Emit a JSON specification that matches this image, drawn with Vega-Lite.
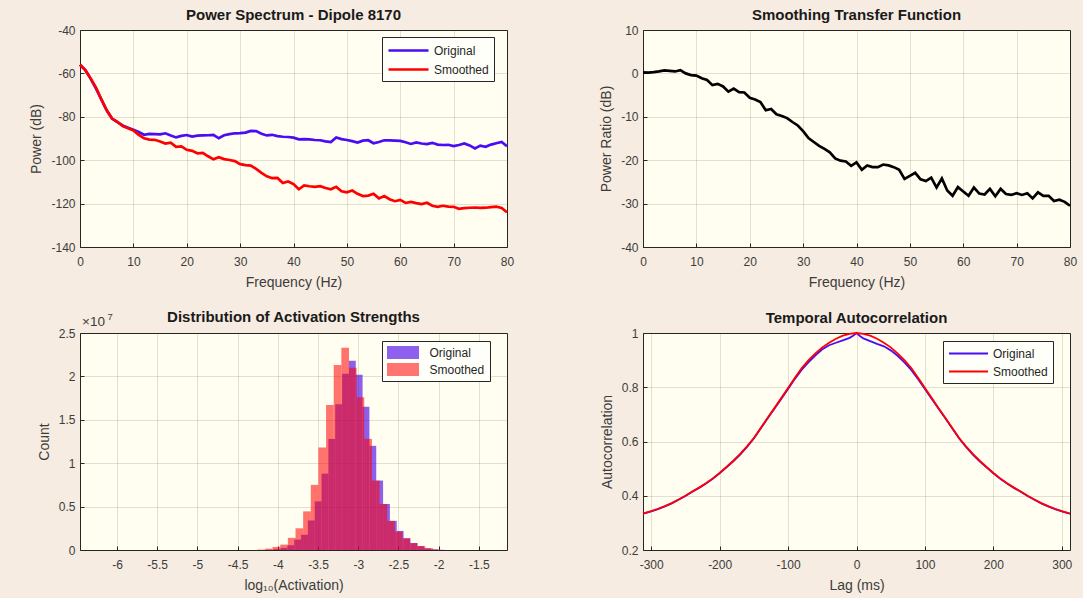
{
  "$schema": "https://vega.github.io/schema/vega-lite/v6.json",
  "background": "#f6ece1",
  "padding": {"left": 29, "top": 7, "right": 5, "bottom": 5},
  "columns": 2,
  "spacing": {"row": 86, "column": 136},
  "bounds": "flush",
  "resolve": {"scale": {"color": "independent"}, "legend": {"color": "independent"}},
  "config": {
    "font": "Liberation Sans",
    "locale": {"number": {"decimal": ".", "thousands": ",", "grouping": [3], "currency": ["$", ""], "minus": "-"}},
    "view": {"fill": "#fffef0", "stroke": "#262626", "strokeWidth": 1},
    "axis": {
      "labelFont": "Liberation Sans", "labelFontSize": 12, "labelColor": "#3c3c3c",
      "titleFont": "Liberation Sans", "titleFontSize": 14, "titleFontWeight": "normal", "titleColor": "#3c3c3c",
      "domain": false, "ticks": true, "tickSize": -4, "tickColor": "#262626",
      "grid": true, "gridColor": "#3a2a10", "gridOpacity": 0.14,
      "labelPadding": 13, "titlePadding": 8, "labelFlush": false, "labelOverlap": false, "labelBound": false
    },
    "axisY": {"labelPadding": 9, "titlePadding": 7},
    "title": {"font": "Liberation Sans", "fontSize": 15, "fontWeight": "bold", "color": "#1a1a1a", "offset": 1},
    "legend": {
      "title": null, "orient": "none", "strokeColor": "#262626", "fillColor": "#fffffa",
      "padding": 5, "labelFont": "Liberation Sans", "labelFontSize": 12, "labelColor": "#262626", "labelAlign": "left",
      "rowPadding": 4, "symbolOpacity": 1
    }
  },
  "concat": [
    {
      "width": 427, "height": 217,
      "title": "Power Spectrum - Dipole 8170",
      "data": {"values": [
        {"f":0,"p":-56,"s":"Original"},{"f":1,"p":-58.5,"s":"Original"},{"f":2,"p":-62.5,"s":"Original"},{"f":3,"p":-67,"s":"Original"},{"f":4,"p":-72,"s":"Original"},{"f":5,"p":-77,"s":"Original"},{"f":6,"p":-80.8,"s":"Original"},{"f":7,"p":-82.5,"s":"Original"},{"f":8,"p":-84,"s":"Original"},{"f":9,"p":-85,"s":"Original"},
        {"f":10,"p":-86,"s":"Original"},{"f":11,"p":-87,"s":"Original"},{"f":12,"p":-88.3,"s":"Original"},{"f":13,"p":-87.9,"s":"Original"},{"f":14,"p":-88,"s":"Original"},{"f":15,"p":-88.1,"s":"Original"},{"f":16,"p":-87.6,"s":"Original"},{"f":17,"p":-88.6,"s":"Original"},{"f":18,"p":-89.5,"s":"Original"},{"f":19,"p":-88.8,"s":"Original"},
        {"f":20,"p":-88.4,"s":"Original"},{"f":21,"p":-89.1,"s":"Original"},{"f":22,"p":-88.7,"s":"Original"},{"f":23,"p":-88.6,"s":"Original"},{"f":24,"p":-88.5,"s":"Original"},{"f":25,"p":-88.3,"s":"Original"},{"f":26,"p":-89.9,"s":"Original"},{"f":27,"p":-88.5,"s":"Original"},{"f":28,"p":-88,"s":"Original"},{"f":29,"p":-87.6,"s":"Original"},
        {"f":30,"p":-87.5,"s":"Original"},{"f":31,"p":-87.3,"s":"Original"},{"f":32,"p":-86.5,"s":"Original"},{"f":33,"p":-86.6,"s":"Original"},{"f":34,"p":-87.8,"s":"Original"},{"f":35,"p":-88.6,"s":"Original"},{"f":36,"p":-88.3,"s":"Original"},{"f":37,"p":-88.9,"s":"Original"},{"f":38,"p":-89.2,"s":"Original"},{"f":39,"p":-89.3,"s":"Original"},
        {"f":40,"p":-89.6,"s":"Original"},{"f":41,"p":-90.4,"s":"Original"},{"f":42,"p":-90.3,"s":"Original"},{"f":43,"p":-90.4,"s":"Original"},{"f":44,"p":-90.7,"s":"Original"},{"f":45,"p":-90.8,"s":"Original"},{"f":46,"p":-91.3,"s":"Original"},{"f":47,"p":-91.6,"s":"Original"},{"f":48,"p":-89.5,"s":"Original"},{"f":49,"p":-90.3,"s":"Original"},
        {"f":50,"p":-90.7,"s":"Original"},{"f":51,"p":-91.2,"s":"Original"},{"f":52,"p":-91.9,"s":"Original"},{"f":53,"p":-91,"s":"Original"},{"f":54,"p":-90.8,"s":"Original"},{"f":55,"p":-92.2,"s":"Original"},{"f":56,"p":-91.6,"s":"Original"},{"f":57,"p":-90.8,"s":"Original"},{"f":58,"p":-90.9,"s":"Original"},{"f":59,"p":-91,"s":"Original"},
        {"f":60,"p":-91.1,"s":"Original"},{"f":61,"p":-91.7,"s":"Original"},{"f":62,"p":-92.5,"s":"Original"},{"f":63,"p":-91.8,"s":"Original"},{"f":64,"p":-92.3,"s":"Original"},{"f":65,"p":-92.6,"s":"Original"},{"f":66,"p":-92,"s":"Original"},{"f":67,"p":-92.8,"s":"Original"},{"f":68,"p":-93,"s":"Original"},{"f":69,"p":-92.9,"s":"Original"},
        {"f":70,"p":-93.5,"s":"Original"},{"f":71,"p":-93,"s":"Original"},{"f":72,"p":-92.3,"s":"Original"},{"f":73,"p":-93.2,"s":"Original"},{"f":74,"p":-94.6,"s":"Original"},{"f":75,"p":-93.3,"s":"Original"},{"f":76,"p":-93.8,"s":"Original"},{"f":77,"p":-92.8,"s":"Original"},{"f":78,"p":-92.2,"s":"Original"},{"f":79,"p":-91.6,"s":"Original"},{"f":80,"p":-93.6,"s":"Original"},
        {"f":0,"p":-56,"s":"Smoothed"},{"f":1,"p":-58.5,"s":"Smoothed"},{"f":2,"p":-62.3,"s":"Smoothed"},{"f":3,"p":-66.5,"s":"Smoothed"},{"f":4,"p":-72,"s":"Smoothed"},{"f":5,"p":-77,"s":"Smoothed"},{"f":6,"p":-80.8,"s":"Smoothed"},{"f":7,"p":-82.3,"s":"Smoothed"},{"f":8,"p":-84.3,"s":"Smoothed"},{"f":9,"p":-85.3,"s":"Smoothed"},
        {"f":10,"p":-86.3,"s":"Smoothed"},{"f":11,"p":-88.3,"s":"Smoothed"},{"f":12,"p":-89.9,"s":"Smoothed"},{"f":13,"p":-90.5,"s":"Smoothed"},{"f":14,"p":-90.6,"s":"Smoothed"},{"f":15,"p":-91.4,"s":"Smoothed"},{"f":16,"p":-92.3,"s":"Smoothed"},{"f":17,"p":-91.9,"s":"Smoothed"},{"f":18,"p":-93.8,"s":"Smoothed"},{"f":19,"p":-93.6,"s":"Smoothed"},
        {"f":20,"p":-95.2,"s":"Smoothed"},{"f":21,"p":-95.7,"s":"Smoothed"},{"f":22,"p":-96.8,"s":"Smoothed"},{"f":23,"p":-96.6,"s":"Smoothed"},{"f":24,"p":-98.2,"s":"Smoothed"},{"f":25,"p":-99.6,"s":"Smoothed"},{"f":26,"p":-98.6,"s":"Smoothed"},{"f":27,"p":-99.5,"s":"Smoothed"},{"f":28,"p":-99.9,"s":"Smoothed"},{"f":29,"p":-100.4,"s":"Smoothed"},
        {"f":30,"p":-101.8,"s":"Smoothed"},{"f":31,"p":-102.3,"s":"Smoothed"},{"f":32,"p":-102.5,"s":"Smoothed"},{"f":33,"p":-104,"s":"Smoothed"},{"f":34,"p":-105.8,"s":"Smoothed"},{"f":35,"p":-107.4,"s":"Smoothed"},{"f":36,"p":-108.3,"s":"Smoothed"},{"f":37,"p":-108.2,"s":"Smoothed"},{"f":38,"p":-110.5,"s":"Smoothed"},{"f":39,"p":-109.8,"s":"Smoothed"},
        {"f":40,"p":-111,"s":"Smoothed"},{"f":41,"p":-113.4,"s":"Smoothed"},{"f":42,"p":-111.6,"s":"Smoothed"},{"f":43,"p":-112,"s":"Smoothed"},{"f":44,"p":-112.3,"s":"Smoothed"},{"f":45,"p":-112,"s":"Smoothed"},{"f":46,"p":-112.8,"s":"Smoothed"},{"f":47,"p":-113.4,"s":"Smoothed"},{"f":48,"p":-112.3,"s":"Smoothed"},{"f":49,"p":-114.3,"s":"Smoothed"},
        {"f":50,"p":-114.8,"s":"Smoothed"},{"f":51,"p":-114,"s":"Smoothed"},{"f":52,"p":-115.5,"s":"Smoothed"},{"f":53,"p":-116.5,"s":"Smoothed"},{"f":54,"p":-116.3,"s":"Smoothed"},{"f":55,"p":-115.5,"s":"Smoothed"},{"f":56,"p":-117.6,"s":"Smoothed"},{"f":57,"p":-116.5,"s":"Smoothed"},{"f":58,"p":-118,"s":"Smoothed"},{"f":59,"p":-118.9,"s":"Smoothed"},
        {"f":60,"p":-118.3,"s":"Smoothed"},{"f":61,"p":-119.7,"s":"Smoothed"},{"f":62,"p":-119.2,"s":"Smoothed"},{"f":63,"p":-119.8,"s":"Smoothed"},{"f":64,"p":-120.2,"s":"Smoothed"},{"f":65,"p":-119.6,"s":"Smoothed"},{"f":66,"p":-121,"s":"Smoothed"},{"f":67,"p":-121.5,"s":"Smoothed"},{"f":68,"p":-121,"s":"Smoothed"},{"f":69,"p":-121.4,"s":"Smoothed"},
        {"f":70,"p":-121.5,"s":"Smoothed"},{"f":71,"p":-122.4,"s":"Smoothed"},{"f":72,"p":-122.1,"s":"Smoothed"},{"f":73,"p":-121.9,"s":"Smoothed"},{"f":74,"p":-121.8,"s":"Smoothed"},{"f":75,"p":-122,"s":"Smoothed"},{"f":76,"p":-121.9,"s":"Smoothed"},{"f":77,"p":-121.6,"s":"Smoothed"},{"f":78,"p":-121.4,"s":"Smoothed"},{"f":79,"p":-122,"s":"Smoothed"},{"f":80,"p":-124,"s":"Smoothed"}
      ]},
      "mark": {"type": "line", "strokeWidth": 2.7},
      "encoding": {
        "x": {"field": "f", "type": "quantitative", "scale": {"domain": [0, 80], "nice": false}, "axis": {"title": "Frequency (Hz)", "values": [0,10,20,30,40,50,60,70,80]}},
        "y": {"field": "p", "type": "quantitative", "scale": {"domain": [-140, -40], "nice": false, "zero": false}, "axis": {"title": "Power (dB)", "values": [-140,-120,-100,-80,-60,-40]}},
        "color": {"field": "s", "type": "nominal", "scale": {"domain": ["Original", "Smoothed"], "range": ["#4a0cf5", "#ff0000"]},
          "legend": {"legendX": 302, "legendY": 7, "symbolType": "M-3,0H3", "symbolSize": 178, "symbolStrokeWidth": 2.7, "symbolOffset": 13, "labelOffset": 17, "rowPadding": 4, "padding": 5}}
      }
    },
    {
      "width": 427, "height": 217,
      "title": "Smoothing Transfer Function",
      "data": {"values": [
        {"f":0,"r":0.25},{"f":1,"r":0.2},{"f":2,"r":0.3},{"f":3,"r":0.45},{"f":4,"r":0.7},{"f":5,"r":0.6},{"f":6,"r":0.45},{"f":7,"r":0.75},{"f":8,"r":0},{"f":9,"r":-0.4},
        {"f":10,"r":-0.5},{"f":11,"r":-1.1},{"f":12,"r":-1.5},{"f":13,"r":-2.7},{"f":14,"r":-2.4},{"f":15,"r":-3},{"f":16,"r":-4.2},{"f":17,"r":-3.5},{"f":18,"r":-4.3},{"f":19,"r":-4.4},
        {"f":20,"r":-5.6},{"f":21,"r":-6},{"f":22,"r":-6.6},{"f":23,"r":-8.5},{"f":24,"r":-8.2},{"f":25,"r":-9.4},{"f":26,"r":-9.8},{"f":27,"r":-10.3},{"f":28,"r":-11.2},{"f":29,"r":-12},
        {"f":30,"r":-13.3},{"f":31,"r":-14.9},{"f":32,"r":-15.8},{"f":33,"r":-16.7},{"f":34,"r":-17.4},{"f":35,"r":-18.2},{"f":36,"r":-19.6},{"f":37,"r":-20.1},{"f":38,"r":-20.3},{"f":39,"r":-21.3},
        {"f":40,"r":-20.5},{"f":41,"r":-22.2},{"f":42,"r":-21.2},{"f":43,"r":-21.6},{"f":44,"r":-21.6},{"f":45,"r":-21},{"f":46,"r":-21.2},{"f":47,"r":-21.6},{"f":48,"r":-22.2},{"f":49,"r":-24.3},
        {"f":50,"r":-23.6},{"f":51,"r":-22.9},{"f":52,"r":-24.4},{"f":53,"r":-24.8},{"f":54,"r":-24},{"f":55,"r":-26.3},{"f":56,"r":-24.2},{"f":57,"r":-27},{"f":58,"r":-28.2},{"f":59,"r":-26.2},
        {"f":60,"r":-27.2},{"f":61,"r":-28.2},{"f":62,"r":-26.3},{"f":63,"r":-27.7},{"f":64,"r":-27.9},{"f":65,"r":-26.6},{"f":66,"r":-28.3},{"f":67,"r":-26.6},{"f":68,"r":-27.8},{"f":69,"r":-28},
        {"f":70,"r":-27.6},{"f":71,"r":-28},{"f":72,"r":-27.6},{"f":73,"r":-28.8},{"f":74,"r":-27.4},{"f":75,"r":-28.2},{"f":76,"r":-28.2},{"f":77,"r":-29.4},{"f":78,"r":-29.1},{"f":79,"r":-29.6},{"f":80,"r":-30.5}
      ]},
      "mark": {"type": "line", "strokeWidth": 2.7, "color": "#000000"},
      "encoding": {
        "x": {"field": "f", "type": "quantitative", "scale": {"domain": [0, 80], "nice": false}, "axis": {"title": "Frequency (Hz)", "values": [0,10,20,30,40,50,60,70,80]}},
        "y": {"field": "r", "type": "quantitative", "scale": {"domain": [-40, 10], "nice": false, "zero": false}, "axis": {"title": "Power Ratio (dB)", "values": [-40,-30,-20,-10,0,10]}}
      }
    },
    {
      "width": 427, "height": 217,
      "title": {"text": "Distribution of Activation Strengths", "offset": -13},
      "layer": [
        {
          "data": {"values": [
            {"lo":-4.136,"hi":-4.051,"n":30000,"s":"Original"},{"lo":-4.051,"hi":-3.966,"n":100000,"s":"Original"},{"lo":-3.966,"hi":-3.881,"n":250000,"s":"Original"},{"lo":-3.881,"hi":-3.796,"n":550000,"s":"Original"},{"lo":-3.796,"hi":-3.711,"n":1200000,"s":"Original"},
            {"lo":-3.711,"hi":-3.626,"n":1750000,"s":"Original"},{"lo":-3.626,"hi":-3.541,"n":3400000,"s":"Original"},{"lo":-3.541,"hi":-3.456,"n":5600000,"s":"Original"},{"lo":-3.456,"hi":-3.371,"n":8800000,"s":"Original"},{"lo":-3.371,"hi":-3.286,"n":12800000,"s":"Original"},
            {"lo":-3.286,"hi":-3.201,"n":16800000,"s":"Original"},{"lo":-3.201,"hi":-3.116,"n":20300000,"s":"Original"},{"lo":-3.116,"hi":-3.031,"n":21800000,"s":"Original"},{"lo":-3.031,"hi":-2.946,"n":20200000,"s":"Original"},{"lo":-2.946,"hi":-2.861,"n":16500000,"s":"Original"},
            {"lo":-2.861,"hi":-2.776,"n":12000000,"s":"Original"},{"lo":-2.776,"hi":-2.691,"n":8000000,"s":"Original"},{"lo":-2.691,"hi":-2.606,"n":5300000,"s":"Original"},{"lo":-2.606,"hi":-2.521,"n":3360000,"s":"Original"},{"lo":-2.521,"hi":-2.436,"n":2200000,"s":"Original"},
            {"lo":-2.436,"hi":-2.351,"n":1350000,"s":"Original"},{"lo":-2.351,"hi":-2.266,"n":800000,"s":"Original"},{"lo":-2.266,"hi":-2.181,"n":450000,"s":"Original"},{"lo":-2.181,"hi":-2.096,"n":200000,"s":"Original"},{"lo":-2.096,"hi":-2.011,"n":80000,"s":"Original"},{"lo":-2.011,"hi":-1.926,"n":20000,"s":"Original"},
            {"lo":-4.255,"hi":-4.16,"n":50000,"s":"Smoothed"},{"lo":-4.16,"hi":-4.065,"n":150000,"s":"Smoothed"},{"lo":-4.065,"hi":-3.97,"n":350000,"s":"Smoothed"},{"lo":-3.97,"hi":-3.875,"n":620000,"s":"Smoothed"},{"lo":-3.875,"hi":-3.78,"n":1400000,"s":"Smoothed"},
            {"lo":-3.78,"hi":-3.685,"n":2500000,"s":"Smoothed"},{"lo":-3.685,"hi":-3.59,"n":4450000,"s":"Smoothed"},{"lo":-3.59,"hi":-3.495,"n":7500000,"s":"Smoothed"},{"lo":-3.495,"hi":-3.4,"n":11800000,"s":"Smoothed"},{"lo":-3.4,"hi":-3.305,"n":16700000,"s":"Smoothed"},
            {"lo":-3.305,"hi":-3.21,"n":21300000,"s":"Smoothed"},{"lo":-3.21,"hi":-3.115,"n":23300000,"s":"Smoothed"},{"lo":-3.115,"hi":-3.02,"n":21000000,"s":"Smoothed"},{"lo":-3.02,"hi":-2.925,"n":17600000,"s":"Smoothed"},{"lo":-2.925,"hi":-2.83,"n":12800000,"s":"Smoothed"},
            {"lo":-2.83,"hi":-2.735,"n":8000000,"s":"Smoothed"},{"lo":-2.735,"hi":-2.64,"n":5300000,"s":"Smoothed"},{"lo":-2.64,"hi":-2.545,"n":3350000,"s":"Smoothed"},{"lo":-2.545,"hi":-2.45,"n":2100000,"s":"Smoothed"},{"lo":-2.45,"hi":-2.355,"n":1350000,"s":"Smoothed"},
            {"lo":-2.355,"hi":-2.26,"n":800000,"s":"Smoothed"},{"lo":-2.26,"hi":-2.165,"n":450000,"s":"Smoothed"},{"lo":-2.165,"hi":-2.07,"n":200000,"s":"Smoothed"},{"lo":-2.07,"hi":-1.975,"n":50000,"s":"Smoothed"}
          ]},
          "mark": {"type": "rect"},
          "encoding": {
            "x": {"field": "lo", "type": "quantitative", "scale": {"domain": [-6.46, -1.15], "nice": false, "zero": false},
              "axis": {"title": "log₁₀(Activation)", "values": [-6,-5.5,-5,-4.5,-4,-3.5,-3,-2.5,-2,-1.5], "format": "~g"}},
            "x2": {"field": "hi"},
            "y": {"field": "n", "type": "quantitative", "scale": {"domain": [0, 25000000], "nice": false},
              "axis": {"title": "Count", "values": [0,5000000,10000000,15000000,20000000,25000000], "labelExpr": "format(datum.value / 10000000, '~g')"}},
            "y2": {"datum": 0},
            "color": {"field": "s", "type": "nominal", "scale": {"domain": ["Original", "Smoothed"], "range": ["rgba(80,10,230,0.65)", "rgba(255,0,0,0.55)"]},
              "legend": {"legendX": 302, "legendY": 8, "symbolType": "M-2.46,-1H2.46V1H-2.46Z", "symbolSize": 169, "symbolStrokeWidth": 0, "symbolOffset": 9.5, "labelOffset": 20, "rowPadding": 4, "padding": 5}}
          }
        },
        {
          "data": {"values": [{"t": "×10"}]},
          "mark": {"type": "text", "align": "left", "baseline": "bottom", "dx": 2, "dy": -4, "fontSize": 13.5, "color": "#3c3c3c"},
          "encoding": {"x": {"datum": -6.46}, "y": {"datum": 25000000}, "text": {"field": "t"}}
        },
        {
          "data": {"values": [{"t": "7"}]},
          "mark": {"type": "text", "align": "left", "baseline": "bottom", "dx": 27.5, "dy": -11, "fontSize": 9.5, "color": "#3c3c3c"},
          "encoding": {"x": {"datum": -6.46}, "y": {"datum": 25000000}, "text": {"field": "t"}}
        }
      ]
    },
    {
      "width": 427, "height": 217,
      "title": "Temporal Autocorrelation",
      "data": {"values": [
        {"l":-312,"a":0.334,"s":"Original"},{"l":-310,"a":0.335,"s":"Original"},{"l":-300,"a":0.342,"s":"Original"},{"l":-290,"a":0.351,"s":"Original"},{"l":-280,"a":0.361,"s":"Original"},{"l":-270,"a":0.372,"s":"Original"},{"l":-260,"a":0.385,"s":"Original"},{"l":-250,"a":0.399,"s":"Original"},
        {"l":-240,"a":0.415,"s":"Original"},{"l":-230,"a":0.429,"s":"Original"},{"l":-220,"a":0.445,"s":"Original"},{"l":-210,"a":0.463,"s":"Original"},{"l":-200,"a":0.483,"s":"Original"},{"l":-190,"a":0.505,"s":"Original"},{"l":-180,"a":0.527,"s":"Original"},{"l":-170,"a":0.552,"s":"Original"},
        {"l":-160,"a":0.58,"s":"Original"},{"l":-150,"a":0.611,"s":"Original"},{"l":-140,"a":0.648,"s":"Original"},{"l":-130,"a":0.685,"s":"Original"},{"l":-120,"a":0.721,"s":"Original"},{"l":-110,"a":0.757,"s":"Original"},{"l":-100,"a":0.794,"s":"Original"},{"l":-90,"a":0.831,"s":"Original"},
        {"l":-80,"a":0.865,"s":"Original"},{"l":-70,"a":0.893,"s":"Original"},{"l":-60,"a":0.918,"s":"Original"},{"l":-50,"a":0.94,"s":"Original"},{"l":-40,"a":0.955,"s":"Original"},{"l":-30,"a":0.964,"s":"Original"},{"l":-20,"a":0.973,"s":"Original"},{"l":-10,"a":0.982,"s":"Original"},{"l":-5,"a":0.99,"s":"Original"},
        {"l":0,"a":1.0,"s":"Original"},{"l":5,"a":0.989,"s":"Original"},{"l":10,"a":0.98,"s":"Original"},{"l":20,"a":0.97,"s":"Original"},{"l":30,"a":0.96,"s":"Original"},{"l":40,"a":0.951,"s":"Original"},{"l":50,"a":0.936,"s":"Original"},{"l":60,"a":0.916,"s":"Original"},
        {"l":70,"a":0.892,"s":"Original"},{"l":80,"a":0.864,"s":"Original"},{"l":90,"a":0.83,"s":"Original"},{"l":100,"a":0.794,"s":"Original"},{"l":110,"a":0.757,"s":"Original"},{"l":120,"a":0.721,"s":"Original"},{"l":130,"a":0.685,"s":"Original"},{"l":140,"a":0.648,"s":"Original"},
        {"l":150,"a":0.611,"s":"Original"},{"l":160,"a":0.58,"s":"Original"},{"l":170,"a":0.552,"s":"Original"},{"l":180,"a":0.527,"s":"Original"},{"l":190,"a":0.505,"s":"Original"},{"l":200,"a":0.483,"s":"Original"},{"l":210,"a":0.463,"s":"Original"},{"l":220,"a":0.445,"s":"Original"},
        {"l":230,"a":0.429,"s":"Original"},{"l":240,"a":0.415,"s":"Original"},{"l":250,"a":0.399,"s":"Original"},{"l":260,"a":0.385,"s":"Original"},{"l":270,"a":0.372,"s":"Original"},{"l":280,"a":0.361,"s":"Original"},{"l":290,"a":0.351,"s":"Original"},{"l":300,"a":0.342,"s":"Original"},{"l":310,"a":0.335,"s":"Original"},{"l":312,"a":0.334,"s":"Original"},
        {"l":-312,"a":0.335,"s":"Smoothed"},{"l":-310,"a":0.336,"s":"Smoothed"},{"l":-300,"a":0.343,"s":"Smoothed"},{"l":-290,"a":0.352,"s":"Smoothed"},{"l":-280,"a":0.362,"s":"Smoothed"},{"l":-270,"a":0.373,"s":"Smoothed"},{"l":-260,"a":0.386,"s":"Smoothed"},{"l":-250,"a":0.4,"s":"Smoothed"},
        {"l":-240,"a":0.416,"s":"Smoothed"},{"l":-230,"a":0.43,"s":"Smoothed"},{"l":-220,"a":0.446,"s":"Smoothed"},{"l":-210,"a":0.464,"s":"Smoothed"},{"l":-200,"a":0.484,"s":"Smoothed"},{"l":-190,"a":0.506,"s":"Smoothed"},{"l":-180,"a":0.529,"s":"Smoothed"},{"l":-170,"a":0.554,"s":"Smoothed"},
        {"l":-160,"a":0.582,"s":"Smoothed"},{"l":-150,"a":0.613,"s":"Smoothed"},{"l":-140,"a":0.65,"s":"Smoothed"},{"l":-130,"a":0.687,"s":"Smoothed"},{"l":-120,"a":0.723,"s":"Smoothed"},{"l":-110,"a":0.76,"s":"Smoothed"},{"l":-100,"a":0.797,"s":"Smoothed"},{"l":-90,"a":0.835,"s":"Smoothed"},
        {"l":-80,"a":0.871,"s":"Smoothed"},{"l":-70,"a":0.9,"s":"Smoothed"},{"l":-60,"a":0.925,"s":"Smoothed"},{"l":-50,"a":0.947,"s":"Smoothed"},{"l":-40,"a":0.964,"s":"Smoothed"},{"l":-30,"a":0.979,"s":"Smoothed"},{"l":-20,"a":0.99,"s":"Smoothed"},{"l":-10,"a":0.997,"s":"Smoothed"},
        {"l":0,"a":1.0,"s":"Smoothed"},{"l":10,"a":0.997,"s":"Smoothed"},{"l":20,"a":0.99,"s":"Smoothed"},{"l":30,"a":0.979,"s":"Smoothed"},{"l":40,"a":0.964,"s":"Smoothed"},{"l":50,"a":0.947,"s":"Smoothed"},{"l":60,"a":0.925,"s":"Smoothed"},{"l":70,"a":0.9,"s":"Smoothed"},
        {"l":80,"a":0.871,"s":"Smoothed"},{"l":90,"a":0.835,"s":"Smoothed"},{"l":100,"a":0.797,"s":"Smoothed"},{"l":110,"a":0.76,"s":"Smoothed"},{"l":120,"a":0.723,"s":"Smoothed"},{"l":130,"a":0.687,"s":"Smoothed"},{"l":140,"a":0.65,"s":"Smoothed"},{"l":150,"a":0.613,"s":"Smoothed"},
        {"l":160,"a":0.582,"s":"Smoothed"},{"l":170,"a":0.554,"s":"Smoothed"},{"l":180,"a":0.529,"s":"Smoothed"},{"l":190,"a":0.506,"s":"Smoothed"},{"l":200,"a":0.484,"s":"Smoothed"},{"l":210,"a":0.464,"s":"Smoothed"},{"l":220,"a":0.446,"s":"Smoothed"},{"l":230,"a":0.43,"s":"Smoothed"},
        {"l":240,"a":0.416,"s":"Smoothed"},{"l":250,"a":0.4,"s":"Smoothed"},{"l":260,"a":0.386,"s":"Smoothed"},{"l":270,"a":0.373,"s":"Smoothed"},{"l":280,"a":0.362,"s":"Smoothed"},{"l":290,"a":0.352,"s":"Smoothed"},{"l":300,"a":0.343,"s":"Smoothed"},{"l":310,"a":0.336,"s":"Smoothed"},{"l":312,"a":0.335,"s":"Smoothed"}
      ]},
      "mark": {"type": "line", "strokeWidth": 1.8},
      "encoding": {
        "x": {"field": "l", "type": "quantitative", "scale": {"domain": [-312, 312], "nice": false, "zero": false}, "axis": {"title": "Lag (ms)", "values": [-300,-200,-100,0,100,200,300]}},
        "y": {"field": "a", "type": "quantitative", "scale": {"domain": [0.2, 1], "nice": false, "zero": false}, "axis": {"title": "Autocorrelation", "values": [0.2,0.4,0.6,0.8,1], "format": "~g"}},
        "color": {"field": "s", "type": "nominal", "scale": {"domain": ["Original", "Smoothed"], "range": ["#4a0cf5", "#ff0000"]},
          "legend": {"legendX": 300, "legendY": 8, "symbolType": "M-3,0H3", "symbolSize": 169, "symbolStrokeWidth": 2, "symbolOffset": 13, "labelOffset": 17, "rowPadding": 4, "padding": 5}}
      }
    }
  ]
}
